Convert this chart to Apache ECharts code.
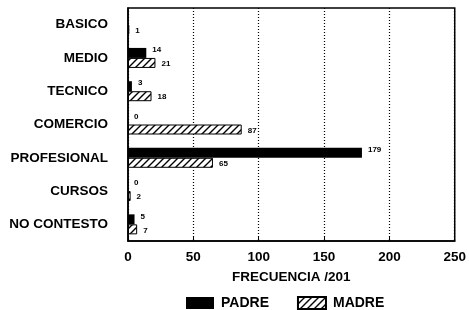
<!DOCTYPE html>
<html>
<head>
    <meta charset="utf-8">
    <title>Frecuencia</title>
    <script src="https://cdn.jsdelivr.net/npm/echarts@6/dist/echarts.min.js"></script>
    <style>
        body { margin: 0; background: #fff; }
        #main { width: 469px; height: 310px; }
    </style>
</head>
<body>
    <div id="main"></div>
    <script type="text/javascript">
    // datos
    var categorias = ['BASICO', 'MEDIO', 'TECNICO', 'COMERCIO', 'PROFESIONAL', 'CURSOS', 'NO CONTESTO'];
    var padre = [null, 14, 3, 0, 179, 0, 5];
    var madre = [1, 21, 18, 87, 65, 2, 7];
    var ticksX = [0, 50, 100, 150, 200, 250];

    // rayado diagonal para MADRE
    function rayado() {
        var c = document.createElement('canvas');
        c.width = 7; c.height = 7;
        var ctx = c.getContext('2d');
        ctx.fillStyle = '#fff';
        ctx.fillRect(0, 0, 7, 7);
        ctx.strokeStyle = '#000';
        ctx.lineWidth = 1.4;
        ctx.beginPath();
        ctx.moveTo(-1, 8); ctx.lineTo(8, -1);
        ctx.moveTo(-1, 1); ctx.lineTo(1, -1);
        ctx.moveTo(6, 8); ctx.lineTo(8, 6);
        ctx.stroke();
        return c;
    }

    var fuente = '"Liberation Sans", Arial, sans-serif';
    var myChart = echarts.init(document.getElementById('main'));

    var option = {
        backgroundColor: '#fff',
        animation: false,
        textStyle: { fontFamily: fuente },
        grid: {
            left: 128, right: 12, top: 8, bottom: 69,
            show: true,
            borderColor: '#000',
            borderWidth: 1.5
        },
        legend: {
            top: 291,
            left: 181,
            icon: 'rect',
            itemWidth: 28,
            itemHeight: 12,
            itemGap: 28,
            textStyle: { fontSize: 14, fontWeight: 'bold', color: '#000', fontFamily: fuente, padding: [0, 0, 0, 2] },
            data: ['PADRE', 'MADRE']
        },
        xAxis: {
            type: 'value',
            min: ticksX[0],
            max: ticksX[ticksX.length - 1],
            interval: 50,
            name: 'FRECUENCIA /201',
            nameLocation: 'middle',
            nameGap: 29,
            nameTextStyle: { fontSize: 13.5, fontWeight: 'bold', color: '#000' },
            axisLine: { show: true, lineStyle: { color: '#000', width: 1.5 } },
            axisTick: { show: true, inside: true, length: 4, lineStyle: { color: '#000' } },
            axisLabel: { fontSize: 13.5, fontWeight: 'bold', color: '#000', margin: 9 },
            splitLine: { show: true, lineStyle: { color: '#000', type: [1, 2], width: 1.2 } }
        },
        yAxis: {
            type: 'category',
            inverse: true,
            data: categorias,
            axisLine: { show: true, lineStyle: { color: '#000', width: 1.5 } },
            axisTick: { show: false },
            axisLabel: { fontSize: 13.5, fontWeight: 'bold', color: '#000', margin: 20 }
        },
        series: [{
            name: 'PADRE',
            type: 'bar',
            data: padre,
            barWidth: 10,
            barGap: '0%',
            itemStyle: { color: '#000' },
            label: {
                show: true, position: 'right', distance: 6, offset: [0, -3],
                fontSize: 8, fontWeight: 'bold', color: '#000'
            }
        }, {
            name: 'MADRE',
            type: 'bar',
            data: madre,
            barWidth: 10,
            itemStyle: {
                color: { image: rayado(), repeat: 'repeat' },
                borderColor: '#000',
                borderWidth: 1
            },
            label: {
                show: true, position: 'right', distance: 6, offset: [0, 1],
                fontSize: 8, fontWeight: 'bold', color: '#000'
            }
        }]
    };

    myChart.setOption(option);
    </script>
</body>
</html>
